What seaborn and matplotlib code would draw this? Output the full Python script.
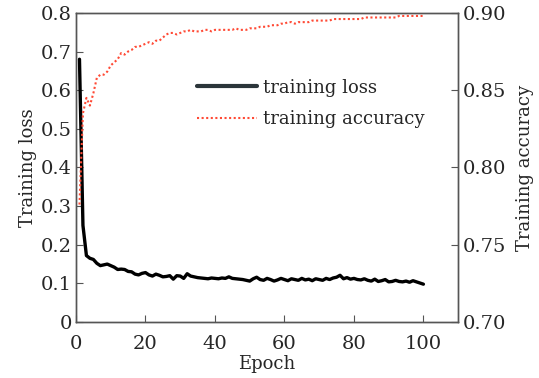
import matplotlib
matplotlib.use("Agg")
import matplotlib.pyplot as plt
import seaborn as sns
import numpy as np
import pandas as pd

# --- data ---
epochs = list(range(1, 101))

train_loss = [
    0.680, 0.250, 0.172, 0.165, 0.162, 0.152, 0.146, 0.148, 0.150, 0.146,
    0.142, 0.136, 0.137, 0.136, 0.131, 0.130, 0.124, 0.122, 0.126, 0.128,
    0.122, 0.119, 0.124, 0.121, 0.117, 0.118, 0.120, 0.111, 0.120, 0.119,
    0.113, 0.125, 0.119, 0.117, 0.115, 0.114, 0.113, 0.112, 0.114, 0.113,
    0.112, 0.114, 0.113, 0.117, 0.113, 0.112, 0.111, 0.110, 0.108, 0.106,
    0.112, 0.116, 0.110, 0.108, 0.113, 0.110, 0.106, 0.109, 0.113, 0.110,
    0.107, 0.112, 0.110, 0.108, 0.113, 0.109, 0.111, 0.107, 0.112, 0.110,
    0.108, 0.113, 0.110, 0.114, 0.116, 0.121, 0.112, 0.115, 0.111, 0.113,
    0.110, 0.109, 0.112, 0.108, 0.106, 0.111, 0.105, 0.107, 0.110, 0.104,
    0.105, 0.108, 0.105, 0.104, 0.106, 0.103, 0.107, 0.104, 0.101, 0.098,
]

train_acc = [
    0.776, 0.835, 0.845, 0.840, 0.848, 0.858, 0.860, 0.860, 0.862, 0.866,
    0.868, 0.870, 0.874, 0.873, 0.875, 0.876, 0.878, 0.878, 0.879, 0.880,
    0.881, 0.880, 0.882, 0.882, 0.884, 0.886, 0.887, 0.887, 0.886, 0.887,
    0.888, 0.888, 0.889, 0.888, 0.888, 0.888, 0.889, 0.889, 0.888, 0.889,
    0.889, 0.889, 0.889, 0.889, 0.889, 0.890, 0.889, 0.889, 0.889, 0.890,
    0.890, 0.890, 0.891, 0.891, 0.891, 0.892, 0.892, 0.892, 0.893, 0.893,
    0.894, 0.894, 0.893, 0.894, 0.894, 0.894, 0.894, 0.895, 0.895, 0.895,
    0.895, 0.895, 0.895, 0.896, 0.896, 0.896, 0.896, 0.896, 0.896, 0.896,
    0.896, 0.896, 0.897, 0.897, 0.897, 0.897, 0.897, 0.897, 0.897, 0.897,
    0.897, 0.897, 0.898, 0.898, 0.898, 0.898, 0.898, 0.898, 0.898, 0.898,
]

df = pd.DataFrame({"epoch": epochs, "loss": train_loss, "acc": train_acc})

sns.set_style("white")
plt.rcParams["font.family"] = ["DejaVu Serif"]

fig = plt.figure(figsize=(5.39, 3.78), dpi=100)
ax = fig.add_axes([0.141, 0.148, 0.709, 0.818])
ax2 = ax.twinx()

sns.lineplot(data=df, x="epoch", y="loss", ax=ax, color="black", linewidth=2.4,
             label="training loss", legend=False)
sns.lineplot(data=df, x="epoch", y="acc", ax=ax2, color="#ff4a35", linewidth=1.5,
             linestyle=(0, (1, 1.2)), label="training accuracy", legend=False)

ax.set_xlim(0, 110)
ax.set_ylim(0, 0.8)
ax2.set_ylim(0.70, 0.90)
ax.set_xticks([0, 20, 40, 60, 80, 100])
ax.set_yticks(np.arange(0, 0.81, 0.1))
ax.set_yticklabels(["0", "0.1", "0.2", "0.3", "0.4", "0.5", "0.6", "0.7", "0.8"])
ax2.set_yticks([0.70, 0.75, 0.80, 0.85, 0.90])
ax2.set_yticklabels(["0.70", "0.75", "0.80", "0.85", "0.90"])

ax.set_xlabel("Epoch", fontsize=13, labelpad=2)
ax.set_ylabel("Training loss", fontsize=13, labelpad=3)
ax2.set_ylabel("Training accuracy", fontsize=13, labelpad=7)

for a in (ax, ax2):
    for s in a.spines.values():
        s.set_color("#555555")
        s.set_linewidth(1.0)
ax.tick_params(axis="both", direction="in", length=5, color="#555555",
               labelsize=14, left=True, bottom=True, right=False, top=False)
ax.tick_params(axis="x", pad=9)
ax.tick_params(axis="y", pad=3)
ax2.tick_params(axis="y", direction="in", length=5, color="#555555",
                labelsize=14, right=True, left=False, pad=3)

h1, l1 = ax.get_legend_handles_labels()
h2, l2 = ax2.get_legend_handles_labels()
leg = ax2.legend(h1 + h2, l1 + l2, loc="upper left", bbox_to_anchor=(0.275, 0.84),
                 frameon=False, fontsize=13, handlelength=3.3, handletextpad=0.35,
                 labelspacing=0.75)
leg.legend_handles[0].set_color("#2b353a")
leg.legend_handles[0].set_linewidth(3)

fig.savefig("out.png", dpi=100)
